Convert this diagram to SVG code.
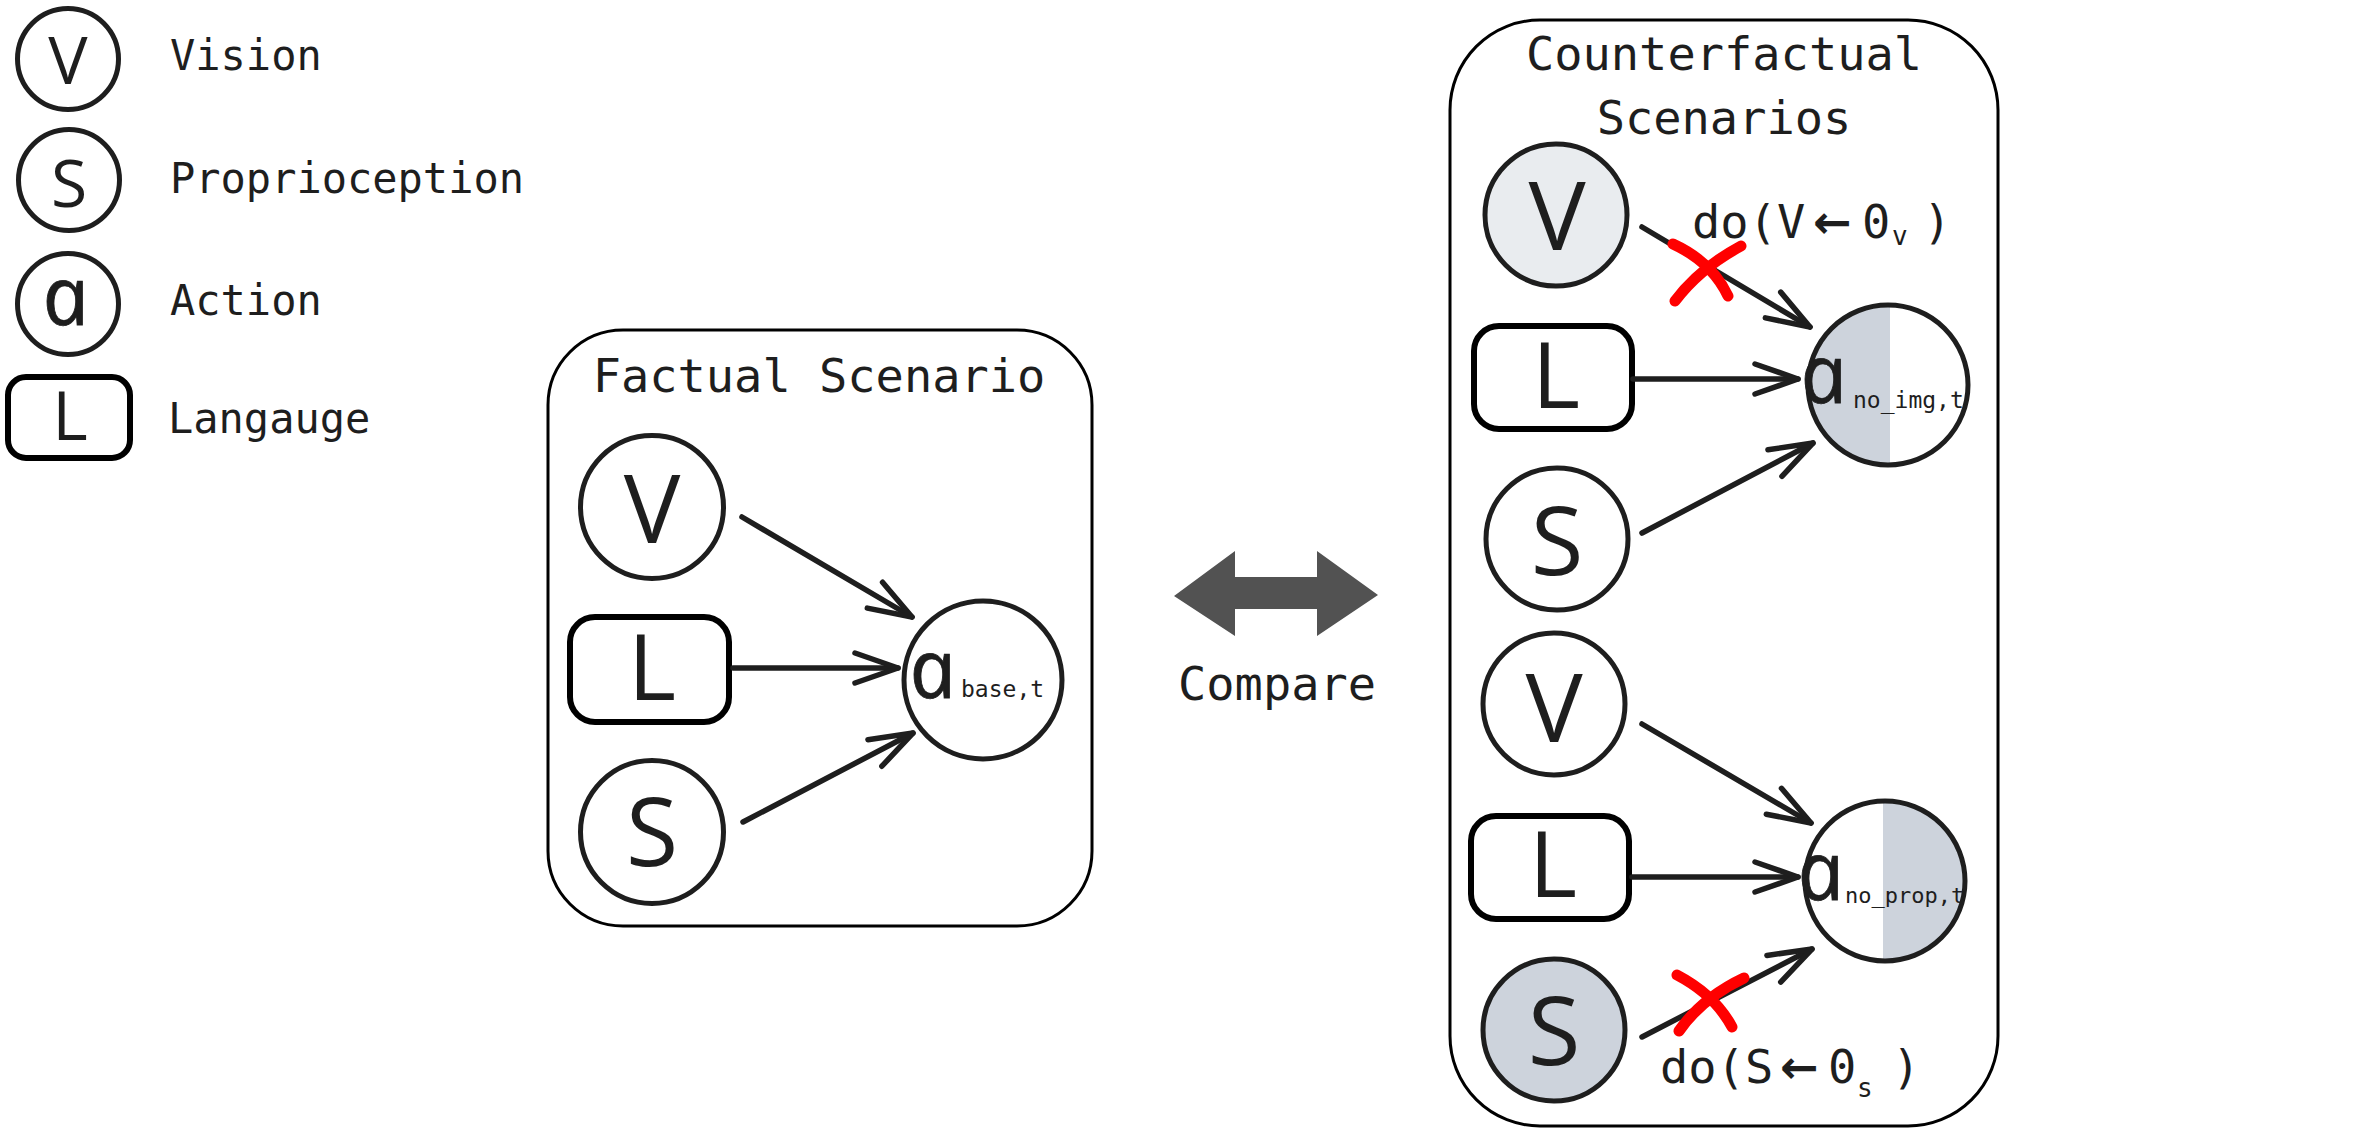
<svg xmlns="http://www.w3.org/2000/svg" width="2362" height="1134" viewBox="0 0 2362 1134">
<defs>
<style>
.node{fill:#fff;stroke:#1e1e1e;stroke-width:5}
.lang{fill:#fff;stroke:#000;stroke-width:6}
.box{fill:none;stroke:#000;stroke-width:3}
.glyph{font-family:"Open Sans","Noto Sans",sans-serif;fill:#1e1e1e;text-anchor:middle}
.ital{font-family:"Open Sans","Noto Sans",sans-serif;font-style:italic;fill:#1e1e1e;stroke:#1e1e1e;stroke-width:0.8;font-size:82px}
.mono{font-family:"DejaVu Sans Mono","Liberation Mono",monospace;fill:#1e1e1e}
.sub{font-family:"DejaVu Sans Mono","Liberation Mono",monospace;fill:#1e1e1e;font-size:23px}
.edge{stroke:#1e1e1e;stroke-width:5.5;stroke-linecap:round;fill:none;marker-end:url(#ah)}
.cross{stroke:#ff0000;stroke-width:11;stroke-linecap:round;fill:none}
.arr{font-family:"DejaVu Sans",sans-serif;font-weight:bold;font-size:46px}
</style>
<marker id="ah" markerUnits="userSpaceOnUse" viewBox="-50 -25 56 50" refX="0" refY="0" markerWidth="56" markerHeight="50" orient="auto" overflow="visible">
<path d="M-43,-15 L0,0 L-43,15" fill="none" stroke="#1e1e1e" stroke-width="5.5" stroke-linecap="round" stroke-linejoin="round"/>
</marker>
</defs>
<rect width="2362" height="1134" fill="#fff"/>

<g id="legend">
<g id="legend-v"><circle class="node" cx="68" cy="59" r="50.5"/><text class="glyph" x="68" y="84" font-size="66">V</text><text class="mono" x="170" y="70" font-size="42">Vision</text></g>
<g id="legend-s"><circle class="node" cx="69" cy="180" r="50.5"/><text class="glyph" x="69" y="207" font-size="66">S</text><text class="mono" x="170" y="193" font-size="42">Proprioception</text></g>
<g id="legend-a"><circle class="node" cx="68" cy="304" r="50.5"/><text class="ital" transform="translate(47,325) skewX(12)">a</text><text class="mono" x="170" y="315" font-size="42">Action</text></g>
<g id="legend-l"><rect class="lang" x="8" y="377" width="122" height="81" rx="18"/><text class="glyph" x="70" y="440" font-size="68">L</text><text class="mono" x="168" y="433" font-size="42">Langauge</text></g>
</g>

<g id="factual">
<rect class="box" x="548" y="330" width="544" height="596" rx="75"/>
<text class="mono" x="819" y="392" font-size="47" text-anchor="middle">Factual Scenario</text>
</g>
<g id="f-v"><circle class="node" cx="652" cy="507" r="71.5"/><text class="glyph" x="652" y="543" font-size="95">V</text></g>
<g id="f-l"><rect class="lang" x="570" y="617" width="159" height="105" rx="25"/><text class="glyph" x="652" y="700" font-size="92">L</text></g>
<g id="f-s"><circle class="node" cx="652" cy="832" r="71.5"/><text class="glyph" x="652" y="866" font-size="95">S</text></g>
<g id="f-a"><circle class="node" cx="983" cy="680" r="79"/><text class="ital" transform="translate(914,698) skewX(12)">a</text><text class="sub" x="961" y="697">base,t</text></g>

<g id="compare">
<polygon points="1174,596 1235,551 1235,577 1317,577 1317,551 1378,595 1317,636 1317,609 1235,609 1235,636" fill="#525252"/>
<text class="mono" x="1178" y="700" font-size="47">Compare</text>
</g>

<g id="counterfactual">
<rect class="box" x="1450" y="20" width="548" height="1106" rx="90"/>
<text class="mono" x="1724" y="70" font-size="47" text-anchor="middle">Counterfactual</text>
<text class="mono" x="1724" y="134" font-size="47" text-anchor="middle">Scenarios</text>
</g>
<g id="c-v1"><circle class="node" cx="1556" cy="215" r="71" style="fill:#e9ecef"/><text class="glyph" x="1557" y="250" font-size="96">V</text></g>
<g id="c-l1"><rect class="lang" x="1474" y="326" width="158" height="103" rx="25"/><text class="glyph" x="1556" y="408" font-size="92">L</text></g>
<g id="c-s1"><circle class="node" cx="1557" cy="539" r="71"/><text class="glyph" x="1557" y="575" font-size="96">S</text></g>
<g id="c-a1">
<circle cx="1888" cy="385" r="80" fill="#fff"/>
<path d="M1890,305 A80,80 0 0 0 1890,465 Z" fill="#cdd3dc"/>
<circle cx="1888" cy="385" r="80" fill="none" stroke="#1e1e1e" stroke-width="5"/>
<text class="ital" transform="translate(1805,403) skewX(12)">a</text><text class="sub" x="1853" y="408">no_img,t</text>
</g>
<g id="c-v2"><circle class="node" cx="1554" cy="704" r="71"/><text class="glyph" x="1554" y="742" font-size="96">V</text></g>
<g id="c-l2"><rect class="lang" x="1471" y="816" width="158" height="103" rx="25"/><text class="glyph" x="1553" y="897" font-size="92">L</text></g>
<g id="c-s2"><circle class="node" cx="1554" cy="1030" r="71" style="fill:#cdd3dc"/><text class="glyph" x="1554" y="1065" font-size="96">S</text></g>
<g id="c-a2">
<circle cx="1885" cy="881" r="80" fill="#fff"/>
<path d="M1883,801 A80,80 0 0 1 1883,961 Z" fill="#cdd3dc"/>
<circle cx="1885" cy="881" r="80" fill="none" stroke="#1e1e1e" stroke-width="5"/>
<text class="ital" transform="translate(1802,900) skewX(12)">a</text><text class="sub" x="1845" y="903" style="font-size:22px">no_prop,t</text>
</g>

<g id="connectors">
<line class="edge" x1="742" y1="517" x2="912" y2="617"/>
<line class="edge" x1="733" y1="668" x2="898" y2="668"/>
<line class="edge" x1="743" y1="822" x2="913" y2="733"/>
<line class="edge" x1="1642" y1="227" x2="1810" y2="327"/>
<line class="edge" x1="1633" y1="379" x2="1798" y2="379"/>
<line class="edge" x1="1642" y1="533" x2="1813" y2="443"/>
<line class="edge" x1="1642" y1="724" x2="1811" y2="823"/>
<line class="edge" x1="1632" y1="877" x2="1798" y2="877"/>
<line class="edge" x1="1642" y1="1037" x2="1812" y2="949"/>
</g>

<g id="interventions">
<path class="cross" d="M1675,301 Q1700,268 1741,246"/>
<path class="cross" d="M1673,244 Q1712,262 1728,296"/>
<text class="mono" y="238" font-size="47"><tspan x="1692">do(V</tspan><tspan class="arr" x="1813">←</tspan><tspan x="1862">0</tspan><tspan x="1892" dy="7" font-size="26">v</tspan><tspan x="1923" dy="-7">)</tspan></text>
<path class="cross" d="M1679,1031 Q1702,998 1744,978"/>
<path class="cross" d="M1677,975 Q1715,995 1732,1027"/>
<text class="mono" y="1083" font-size="47"><tspan x="1660">do(S</tspan><tspan class="arr" x="1780">←</tspan><tspan x="1828">0</tspan><tspan x="1857" dy="14" font-size="26">s</tspan><tspan x="1892" dy="-14">)</tspan></text>
</g>
</svg>
